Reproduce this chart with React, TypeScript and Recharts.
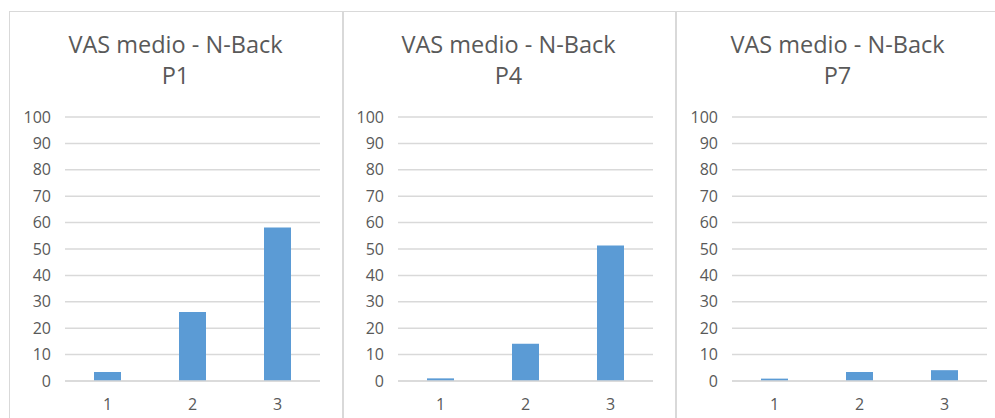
import React from "react";
import { BarChart, Bar, XAxis, YAxis, CartesianGrid } from "recharts";

const categories = ["1", "2", "3"];
const panelNames = ["P1", "P4", "P7"];
const p1Values = [3.4, 26.1, 58.1];
const p4Values = [1.0, 14.1, 51.3];
const p7Values = [0.9, 3.4, 4.1];
const yTicks = [0, 10, 20, 30, 40, 50, 60, 70, 80, 90, 100];

const seriesList = [p1Values, p4Values, p7Values];

// panel frame + plot area positions (layout only)
const panels = [
  { left: 9, right: 342, borderLeft: 1, plotLeft: 65 },
  { left: 342, right: 675, borderLeft: 2, plotLeft: 398 },
  { left: 675, right: 1000, borderLeft: 2, plotLeft: 732 },
];

const FONT = "'Open Sans', 'Noto Sans', sans-serif";
const TEXT = "#595959";
const GRID = "#d9d9d9";
const BAR = "#5b9bd5";

function Panel({ idx }: { idx: number }) {
  const p = panels[idx];
  const data = categories.map((c, i) => ({ name: c, value: seriesList[idx][i] }));
  const axisW = 60;
  const plotW = 255;
  return (
    <>
      <div
        style={{
          position: "absolute",
          left: p.left,
          top: 11,
          width: p.right - p.left,
          height: 420,
          boxSizing: "border-box",
          borderTop: `1px solid ${GRID}`,
          borderLeft: `${p.borderLeft}px solid ${GRID}`,
        }}
      />
      <div
        style={{
          position: "absolute",
          left: p.left,
          top: 29,
          width: p.right - p.left,
          textAlign: "center",
          fontFamily: FONT,
          fontSize: 23.5,
          lineHeight: "31px",
          color: TEXT,
        }}
      >
        <div>VAS medio - N-Back</div>
        <div>{panelNames[idx]}</div>
      </div>
      <div style={{ position: "absolute", left: p.plotLeft - axisW, top: 0 }}>
        <BarChart
          width={axisW + plotW}
          height={418}
          data={data}
          margin={{ top: 117, right: 0, left: 0, bottom: 7 }}
          barSize={27}
        >
          <CartesianGrid vertical={false} stroke={GRID} strokeWidth={1.5} />
          <XAxis
            dataKey="name"
            height={30}
            axisLine={{ stroke: GRID, strokeWidth: 1.5 }}
            tickLine={false}
            tickSize={0}
            tickMargin={18}
            tick={{ fontSize: 16, fill: TEXT, fontFamily: FONT }}
          />
          <YAxis
            domain={[0, 100]}
            ticks={yTicks}
            width={axisW}
            axisLine={false}
            tickLine={false}
            tickSize={0}
            tickMargin={14}
            interval={0}
            tick={{ fontSize: 16, fill: TEXT, fontFamily: FONT }}
          />
          <Bar dataKey="value" fill={BAR} isAnimationActive={false} />
        </BarChart>
      </div>
    </>
  );
}

export default function App() {
  return (
    <div
      style={{
        position: "absolute",
        left: 0,
        top: 0,
        width: 995,
        height: 418,
        overflow: "hidden",
        background: "#fff",
      }}
    >
      {panels.map((_, i) => (
        <Panel key={i} idx={i} />
      ))}
    </div>
  );
}
